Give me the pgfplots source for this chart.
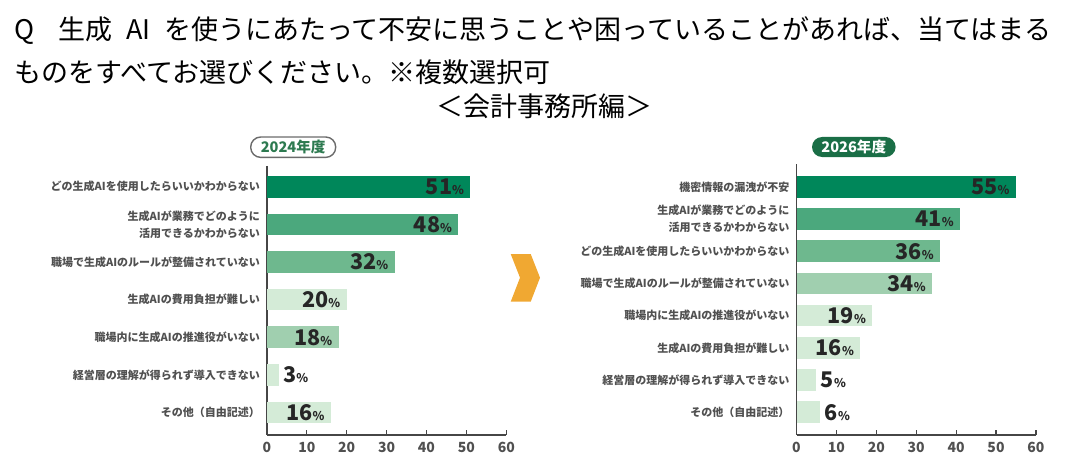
\documentclass[border=0pt]{standalone}
\usepackage{fontspec}
\setmainfont{Noto Sans CJK JP}
\usepackage{pgfplots}
\pgfplotsset{compat=1.18}

\definecolor{gA}{RGB}{0,135,90}
\definecolor{gB}{RGB}{75,168,125}
\definecolor{gC}{RGB}{110,184,142}
\definecolor{gD}{RGB}{160,207,175}
\definecolor{gE}{RGB}{212,235,215}
\definecolor{pill}{RGB}{26,110,70}
\definecolor{pilltxt}{RGB}{45,122,80}
\definecolor{axgray}{RGB}{70,70,70}
\definecolor{labgray}{RGB}{80,80,80}
\definecolor{arrow}{RGB}{240,168,50}

\pgfplotsset{
  /pgf/number format/assume math mode=true,
  bl/.style={xbar, bar width=10.85pt, draw=none, fill=#1},
  pct/.style={nodes near coords={\fontsize{10.8}{12}\selectfont\bfseries\pgfmathprintnumber{\pgfplotspointmeta}{\fontsize{6}{7}\selectfont\%}}},
  lin/.style={pct, every node near coord/.append style={anchor=east, xshift=-3pt, inner sep=0pt, text=black!85}},
  lout/.style={pct, every node near coord/.append style={anchor=west, xshift=2pt, inner sep=0pt, text=black!85}},
  panel/.style={
    scale only axis,
    width=119.7pt,
    y dir=reverse,
    xmin=0, xmax=60,
    xtick={0,10,...,60},
    axis x line*=bottom,
    axis y line*=left,
    x axis line style={-, draw=axgray, line width=0.8pt},
    y axis line style={-, draw=axgray, line width=0.8pt},
    x tick style={draw=axgray, line width=0.6pt},
    tick align=inside,
    major tick length=2.5pt,
    y tick style={draw=none},
    ytick={0,1,...,7},
    x tick label style={font=\fontsize{7}{8}\selectfont\bfseries, text=labgray},
    y tick label style={font=\fontsize{5.5}{8.6}\selectfont\bfseries, text=labgray, align=right},
    clip=false,
  },
}

\begin{document}
\begin{tikzpicture}
\useasboundingbox (0,0) rectangle (540pt,236pt);

% title
\node[anchor=base west, inner sep=0pt, font=\fontsize{13.5}{16}\selectfont] at (7pt,216pt)
  {Q\hspace{0.9em}生成\hspace{0.5em}AI\hspace{0.5em}を使うにあたって不安に思うことや困っていることがあれば、当てはまる};
\node[anchor=base west, inner sep=0pt, font=\fontsize{13.5}{16}\selectfont] at (7pt,194.5pt)
  {ものをすべてお選びください。※複数選択可};
\node[anchor=base, inner sep=0pt, font=\fontsize{13.5}{16}\selectfont] at (272pt,177.5pt)
  {＜会計事務所編＞};

% 2024
\begin{axis}[panel,
  at={(133.45pt,18.6pt)}, anchor=south west,
  height=134.4pt,
  ymin=-0.553, ymax=6.596,
  yticklabels={どの生成AIを使用したらいいかわからない,
    {生成AIが業務でどのように\\活用できるかわからない},
    職場で生成AIのルールが整備されていない,
    生成AIの費用負担が難しい,
    職場内に生成AIの推進役がいない,
    経営層の理解が得られず導入できない,
    その他（自由記述）},
]
\addplot[bl=gA, lin] coordinates {(51,0)};
\addplot[bl=gB, lin] coordinates {(48,1)};
\addplot[bl=gC, lin] coordinates {(32,2)};
\addplot[bl=gE, lin] coordinates {(20,3)};
\addplot[bl=gD, lin] coordinates {(18,4)};
\addplot[bl=gE, lout] coordinates {(3,5)};
\addplot[bl=gE, lin] coordinates {(16,6)};
\end{axis}

% 2026
\begin{axis}[panel,
  at={(398.25pt,18.6pt)}, anchor=south west,
  height=135.2pt,
  ymin=-0.696, ymax=7.70,
  yticklabels={機密情報の漏洩が不安,
    {生成AIが業務でどのように\\活用できるかわからない},
    どの生成AIを使用したらいいかわからない,
    職場で生成AIのルールが整備されていない,
    職場内に生成AIの推進役がいない,
    生成AIの費用負担が難しい,
    経営層の理解が得られず導入できない,
    その他（自由記述）},
]
\addplot[bl=gA, lin] coordinates {(55,0)};
\addplot[bl=gB, lin] coordinates {(41,1)};
\addplot[bl=gC, lin] coordinates {(36,2)};
\addplot[bl=gD, lin] coordinates {(34,3)};
\addplot[bl=gE, lin] coordinates {(19,4)};
\addplot[bl=gE, lin] coordinates {(16,5)};
\addplot[bl=gE, lout] coordinates {(5,6)};
\addplot[bl=gE, lout] coordinates {(6,7)};
\end{axis}

% year pills
\node[draw=axgray!80, line width=0.7pt, fill=white, rounded corners=5pt,
  minimum width=42.5pt, minimum height=10.2pt, inner sep=0pt,
  font=\fontsize{7.3}{8}\selectfont\bfseries, text=pilltxt] at (146.6pt,162.4pt) {2024年度};
\node[fill=pill, rounded corners=5pt,
  minimum width=41.8pt, minimum height=10pt, inner sep=0pt,
  font=\fontsize{7.3}{8}\selectfont\bfseries, text=white] at (426.9pt,162.5pt) {2026年度};

% chevron
\fill[arrow] (255.35pt,109pt) -- (265.35pt,109pt) -- (270pt,97.15pt)
  -- (265.35pt,85.15pt) -- (255.35pt,85.15pt) -- (260pt,97.15pt) -- cycle;
\end{tikzpicture}
\end{document}
